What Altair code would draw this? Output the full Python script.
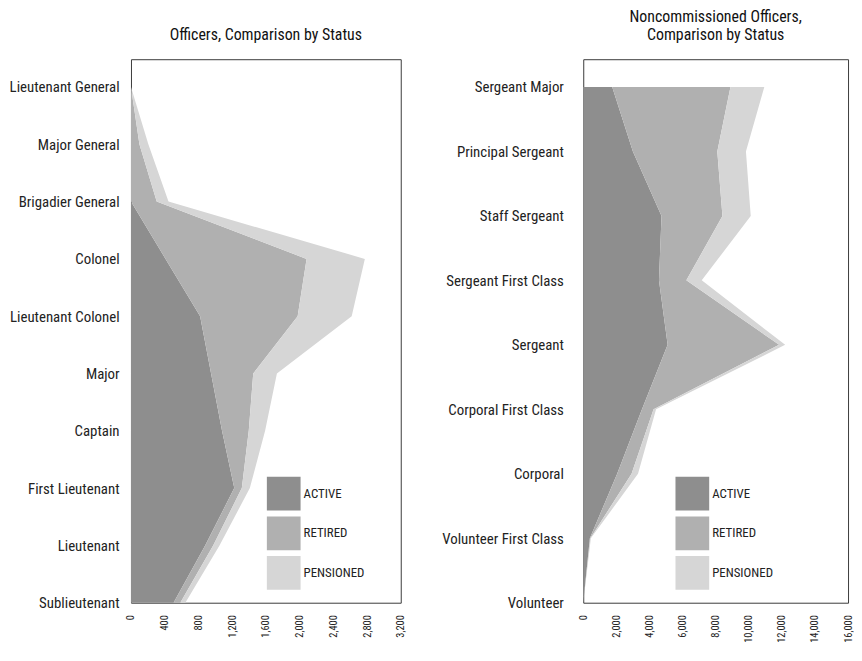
import altair as alt
import pandas as pd

# ---------------- data ----------------
statuses = ["ACTIVE", "RETIRED", "PENSIONED"]
colors = ["#8e8e8e", "#b0b0b0", "#d6d6d6"]

officer_ranks = ["Lieutenant General", "Major General", "Brigadier General", "Colonel",
                 "Lieutenant Colonel", "Major", "Captain", "First Lieutenant",
                 "Lieutenant", "Sublieutenant"]
officer_active = [0, 0, 0, 410, 820, 950, 1080, 1225, 880, 505]
officer_retired = [0, 100, 305, 1673, 1157, 500, 317, 90, 95, 80]
officer_pensioned = [0, 106, 140, 691, 641, 281, 194, 95, 75, 60]
officer_ticks = [0, 400, 800, 1200, 1600, 2000, 2400, 2800, 3200]

nco_ranks = ["Sergeant Major", "Principal Sergeant", "Staff Sergeant\u00a0", "Sergeant First Class",
             "Sergeant", "Corporal First Class", "Corporal", "Volunteer First Class",
             "Volunteer"]
nco_active = [1750, 3000, 4730, 4575, 5100, 3550, 2050, 400, 0]
nco_retired = [7145, 5100, 3680, 1655, 6735, 700, 870, 30, 0]
nco_pensioned = [2045, 1730, 1710, 930, 365, 150, 390, 30, 0]
nco_ticks = [0, 2000, 4000, 6000, 8000, 10000, 12000, 14000, 16000]

FONT = "'Roboto Condensed', 'Liberation Sans Narrow', 'DejaVu Sans Condensed', 'Arial Narrow', Roboto, sans-serif"


def long_frame(ranks, series):
    rows = []
    n = len(ranks)
    for k, (status, vals) in enumerate(zip(statuses, series)):
        for i, (r, v) in enumerate(zip(ranks, vals)):
            rows.append({"rank": r, "pos": n - 1 - i, "status": status, "ord": k, "value": v})
    return pd.DataFrame(rows)


def panel(ranks, series, ticks, ytop, title, label_pad, extent, legend_x, width):
    df = long_frame(ranks, series)
    names_bottom_up = list(reversed(ranks))
    expr = "[" + ",".join("'" + s + "'" for s in names_bottom_up) + "][datum.value]"
    return (
        alt.Chart(df)
        .mark_area(orient="horizontal", opacity=1)
        .encode(
            x=alt.X("value:Q", stack="zero",
                    scale=alt.Scale(domain=[ticks[0], ticks[-1]], nice=False),
                    axis=alt.Axis(values=ticks, format=",d", labelAngle=270, title=None,
                                  grid=False, ticks=False, domain=False, labelPadding=12,
                                  labelFontSize=10.5, labelColor="#222")),
            y=alt.Y("pos:Q", scale=alt.Scale(domain=[0, ytop], nice=False, zero=True),
                    axis=alt.Axis(values=list(range(len(ranks))), labelExpr=expr, title=None,
                                  grid=False, ticks=False, domain=False,
                                  labelPadding=label_pad, labelFontSize=15, labelColor="#222",
                                  labelLimit=300, minExtent=extent, maxExtent=extent)),
            color=alt.Color("status:N",
                            scale=alt.Scale(domain=statuses, range=colors),
                            legend=alt.Legend(title=None, orient="none", legendX=legend_x,
                                              legendY=421, symbolType="square",
                                              symbolSize=1156, symbolStrokeWidth=0,
                                              symbolOpacity=1, rowPadding=6, labelOffset=3,
                                              labelFontSize=13, labelColor="#222",
                                              padding=0)),
            order=alt.Order("ord:Q"),
        )
        .properties(width=width, height=548,
                    title=alt.TitleParams(text=title, fontSize=16, fontWeight="normal",
                                          anchor="middle", lineHeight=19, offset=16,
                                          color="#111"))
    )


left = panel(officer_ranks, [officer_active, officer_retired, officer_pensioned],
             officer_ticks, 9.485, [" ", "Officers, Comparison by Status"], 12, 121, 137, 272)
right = panel(nco_ranks, [nco_active, nco_retired, nco_pensioned],
              nco_ticks, 8.43, ["Noncommissioned Officers,", "Comparison by Status"], 20, 157, 93, 267)

chart = (
    alt.hconcat(left, right, spacing=20)
    .resolve_scale(color="independent", x="independent", y="independent")
    .properties(padding={"top": -3, "bottom": 0, "left": 0, "right": 0})
    .configure(font=FONT)
    .configure_view(stroke="#3a3a3a", strokeWidth=1)
)

chart.save("out.html", embed_options={"renderer": "svg", "actions": False})
